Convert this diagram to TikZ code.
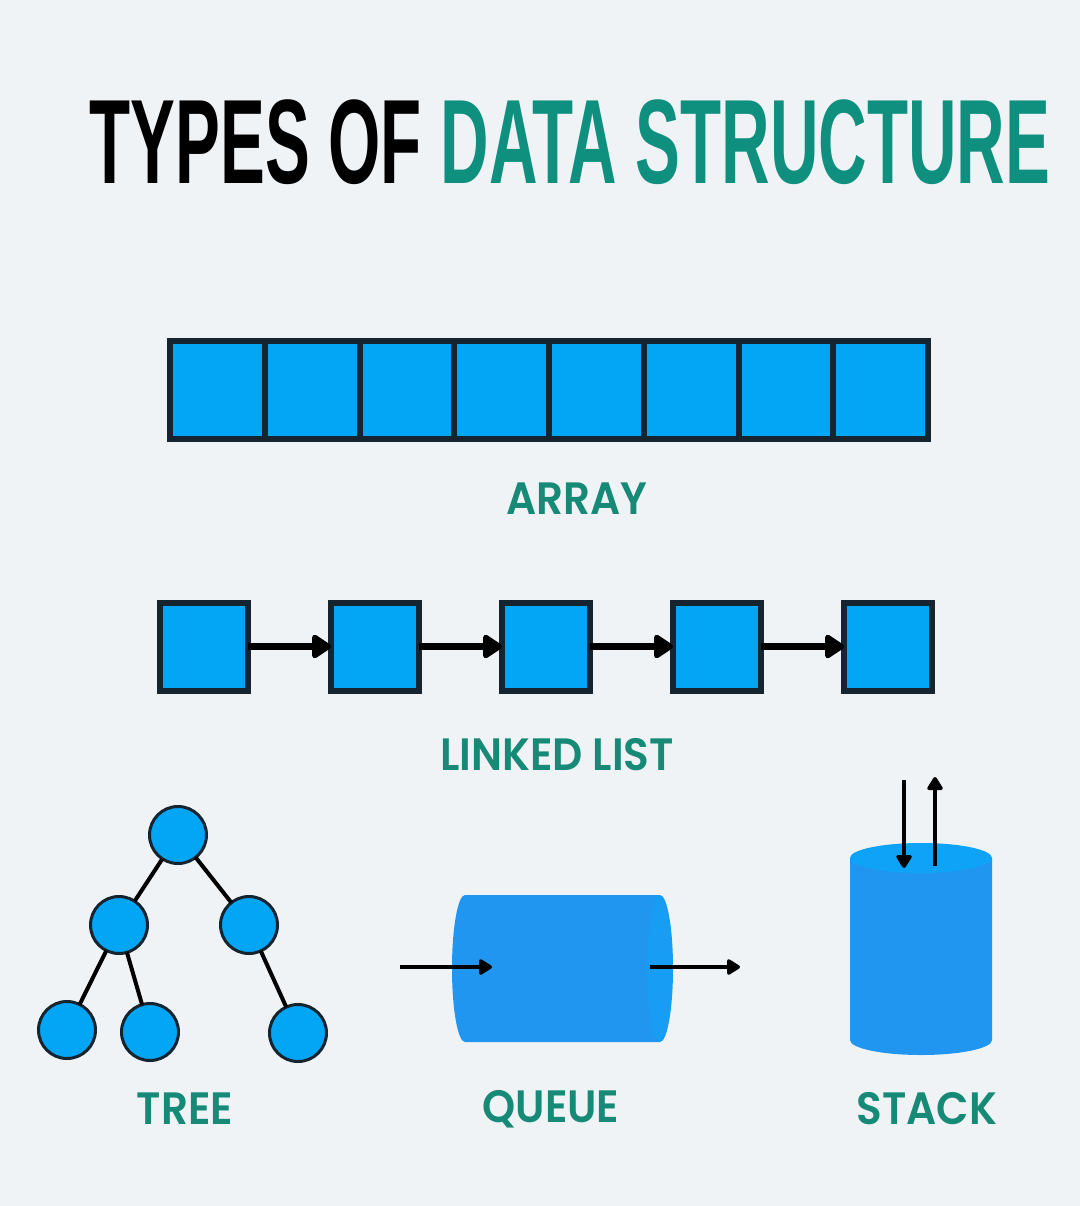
\documentclass[tikz,border=0pt]{standalone}
\usepackage{fontspec}
\usepackage{xcolor}
\usetikzlibrary{arrows.meta}
\newfontfamily\titlefont[FakeStretch=0.56]{Liberation Sans Bold}
\newfontfamily\labelfont[FakeStretch=0.93]{Poppins SemiBold}
\definecolor{bgcol}{RGB}{240,243,246}
\definecolor{cellblue}{RGB}{3,165,245}
\definecolor{edgenavy}{RGB}{21,36,47}
\definecolor{cylblue}{RGB}{33,150,240}
\definecolor{cyltop}{RGB}{14,163,246}
\definecolor{titleteal}{RGB}{15,143,126}
\definecolor{labelteal}{RGB}{22,138,118}

\begin{document}
\begin{tikzpicture}[x=0.75pt,y=-0.75pt,
            cell/.style={shape=rectangle, draw=edgenavy, fill=cellblue, line width=4.5pt, outer sep=0pt, minimum width=71.06pt, minimum height=73.5pt},
            box/.style={shape=rectangle, draw=edgenavy, fill=cellblue, line width=4.5pt, outer sep=0pt, minimum size=66pt},
            circ/.style={shape=circle, draw=edgenavy, fill=cellblue, line width=2.25pt, outer sep=0pt, minimum size=42.75pt},
            nextptr/.style={line width=5.25pt, -{Triangle[length=16pt,width=20pt,round]}},
            flow/.style={line width=2.6pt, -{Triangle[length=11pt,width=13pt,round]}},
            caption/.style={anchor=base, text=labelteal, font=\labelfont\fontsize{34}{34}\selectfont}]
        \fill[bgcol] (0,0) rectangle (1080,1206);

        \node[anchor=base, font=\titlefont\fontsize{90}{90}\selectfont] (title) at (570,183) {TYPES OF \textcolor{titleteal}{DATA STRUCTURE}};

        \foreach \i in {1,...,8}
            \node[cell] (a\i) at ({217.4+94.75*(\i-1)},390) {};
        \node[caption] (arraylabel) at (577,514) {ARRAY};

        \foreach \i in {1,...,5}
            \node[box] (l\i) at ({204+171*(\i-1)},646.5) {};
        \foreach \i/\j in {1/2,2/3,3/4,4/5}
            \draw[nextptr] (l\i) -- (l\j);
        \node[caption] (listlabel) at (557,770) {LINKED LIST};

        \node[circ] (root) at (178,835) {};
        \node[circ] (tl) at (119,925) {};
        \node[circ] (tr) at (249,925) {};
        \node[circ] (tll) at (67,1030) {};
        \node[circ] (tlr) at (150,1032) {};
        \node[circ] (trr) at (298,1033) {};
        \draw[line width=3pt] (root) -- (tl) (root) -- (tr) (tl) -- (tll) (tl) -- (tlr) (tr) -- (trr);
        \node[caption] (treelabel) at (185,1124) {TREE};

        \fill[cylblue] (465,895) -- (660,895) -- (660,1042) -- (465,1042) arc[start angle=90, end angle=270, x radius=13, y radius=73.5] -- cycle;
        \fill[cylblue!50!cyltop] (660,968.5) ellipse[x radius=13, y radius=73.5];
        \coordinate (qin) at (400,967);
        \coordinate (qhead) at (492,967);
        \coordinate (qtail) at (650,967);
        \coordinate (qout) at (740,967);
        \draw[flow] (qin) -- (qhead);
        \draw[flow] (qtail) -- (qout);
        \node[caption] (queuelabel) at (551,1122) {QUEUE};

        \fill[cylblue] (850,858) -- (850,1040) arc[start angle=180, end angle=0, x radius=71, y radius=15] -- (992,858) -- cycle;
        \fill[cyltop] (921,858) ellipse[x radius=71, y radius=15];
        \coordinate (pushtop) at (904,780);
        \coordinate (pushend) at (904,868);
        \coordinate (popstart) at (935,866);
        \coordinate (popend) at (935,777);
        \draw[flow] (pushtop) -- (pushend);
        \draw[flow] (popstart) -- (popend);
        \node[caption] (stacklabel) at (927,1124) {STACK};
    \end{tikzpicture}
\end{document}
